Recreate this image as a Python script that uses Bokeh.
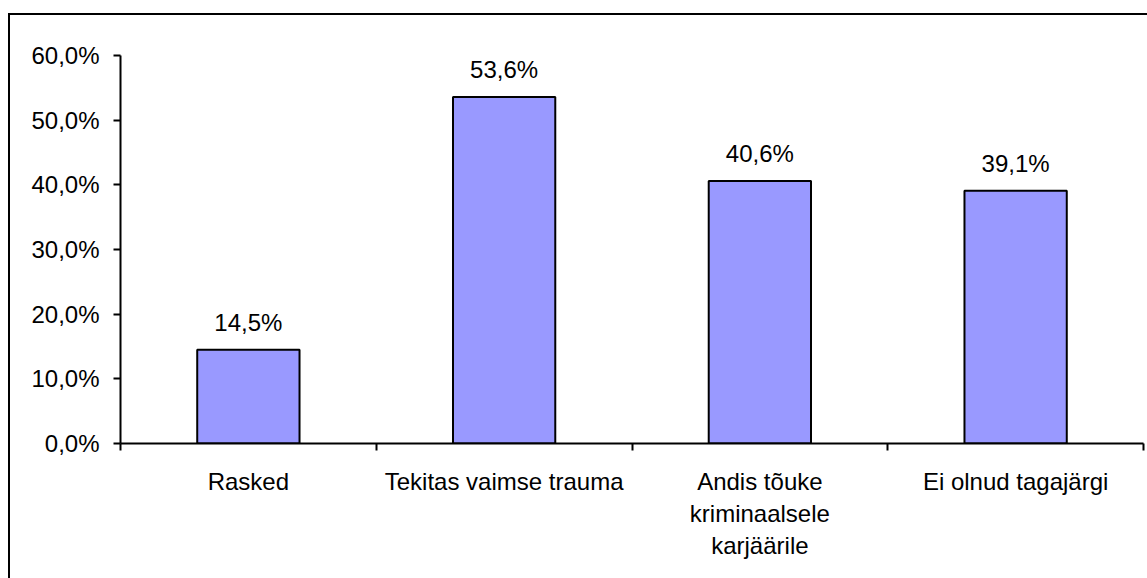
from bokeh.plotting import figure
from bokeh.models import ColumnDataSource, FixedTicker, Range1d
from bokeh.core.properties import value
from bokeh.embed import file_html
from bokeh.resources import INLINE

categories = ["Rasked", "Tekitas vaimse trauma", "Andis tõuke\nkriminaalsele\nkarjäärile", "Ei olnud tagajärgi"]
values = [14.5, 53.6, 40.6, 39.1]
y_ticks = [0, 10, 20, 30, 40, 50, 60]
y_tick_labels = ["0,0%", "10,0%", "20,0%", "30,0%", "40,0%", "50,0%", "60,0%"]

FONT = "Liberation Sans"
FS = "24px"

xpos = [i + 0.5 for i in range(len(categories))]
labels = [("%.1f%%" % v).replace(".", ",") for v in values]
src = ColumnDataSource(dict(x=xpos, top=values, label=labels))

p = figure(output_backend="svg", toolbar_location=None,
           x_range=Range1d(0, len(categories)), y_range=Range1d(0, 60),
           frame_width=1023, frame_height=388)
p.min_border_left = 110
p.min_border_top = 40
p.min_border_right = 4
p.min_border_bottom = 135
p.margin = (13, 0, 0, 8)
p.styles = {"border-left": "2px solid black", "border-top": "2px solid black"}
p.outline_line_color = None
p.background_fill_color = "white"
p.border_fill_color = "white"
p.xgrid.visible = False
p.ygrid.visible = False

p.vbar(x="x", top="top", bottom=0, width=0.4, source=src,
       fill_color="#9999FF", line_color="black", line_width=2)
p.text(x="x", y="top", text="label", source=src, y_offset=-27,
       text_align="center", text_baseline="alphabetic",
       text_font=value(FONT), text_font_size=FS, text_color="black")

# y axis
ya = p.yaxis[0]
ya.ticker = FixedTicker(ticks=y_ticks)
ya.major_label_overrides = {t: l for t, l in zip(y_ticks, y_tick_labels)}
ya.major_tick_out = 7
ya.major_tick_in = 0
ya.minor_tick_out = 0
ya.minor_tick_in = 0
ya.axis_line_width = 2
ya.major_tick_line_width = 2
ya.major_label_standoff = 14
ya.major_label_text_font = FONT
ya.major_label_text_font_size = FS
ya.major_label_text_color = "black"

# x axis
xa = p.xaxis[0]
xa.ticker = FixedTicker(ticks=xpos, minor_ticks=list(range(len(categories) + 1)))
xa.major_label_overrides = {x: c for x, c in zip(xpos, categories)}
xa.major_tick_out = 0
xa.major_tick_in = 0
xa.minor_tick_out = 7
xa.minor_tick_in = 0
xa.minor_tick_line_width = 2
xa.minor_tick_line_color = "black"
xa.axis_line_width = 2
xa.major_label_standoff = 17
xa.major_label_text_font = FONT
xa.major_label_text_font_size = FS
xa.major_label_text_color = "black"
xa.major_label_text_line_height = 1.2

open("out.html", "w").write(file_html(p, INLINE))
